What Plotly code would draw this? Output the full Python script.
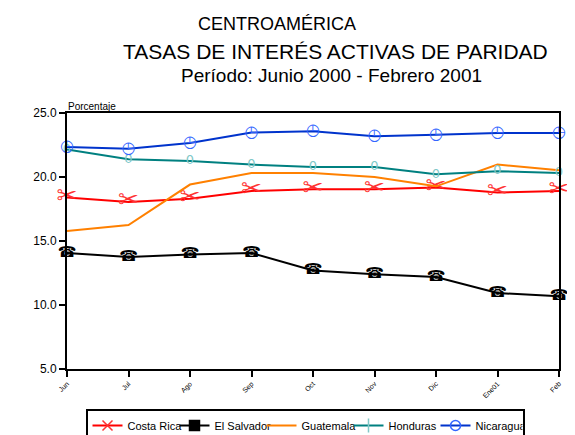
import plotly.graph_objects as go

months = ["Jun", "Jul", "Ago", "Sep", "Oct", "Nov", "Dic", "Ene01", "Feb"]
costa_rica = [18.39, 18.05, 18.31, 18.91, 19.04, 19.04, 19.17, 18.78, 18.91]
el_salvador = [14.06, 13.75, 13.94, 14.06, 12.70, 12.40, 12.19, 10.94, 10.68]
guatemala = [15.78, 16.25, 19.41, 20.31, 20.31, 20.00, 19.27, 20.97, 20.52]
honduras = [22.14, 21.38, 21.25, 20.97, 20.78, 20.78, 20.21, 20.45, 20.31]
nicaragua = [22.34, 22.20, 22.66, 23.47, 23.57, 23.18, 23.31, 23.44, 23.44]

names = ["Costa Rica", "El Salvador", "Guatemala", "Honduras", "Nicaragua"]
series = [costa_rica, el_salvador, guatemala, honduras, nicaragua]
line_colors = ["#FF0000", "#000000", "#FF8000", "#008080", "#0033CC"]
glyphs = ["✂", "☎", None, "0", "◷"]
glyph_colors = ["#FF3333", "#000000", None, "#80C8C8", "#3366FF"]
glyph_sizes = [25, 15, 0, 13, 16]
legend_symbols = ["x-thin-open", "square", None, "line-ns-open", "circle-open"]

x = list(range(len(months)))
fig = go.Figure()
for name, ys, lc, g, gc, gs, ls in zip(names, series, line_colors, glyphs, glyph_colors, glyph_sizes, legend_symbols):
    fig.add_trace(go.Scatter(
        x=x, y=ys, mode="lines", name=name,
        line=dict(color=lc, width=2), showlegend=False, hoverinfo="skip"))
    if g:
        fig.add_trace(go.Scatter(
            x=x, y=ys, mode="text", text=[g] * len(x), showlegend=False,
            textfont=dict(color=gc, size=gs, family="DejaVu Sans"),
            textposition="middle center", cliponaxis=False, hoverinfo="skip"))
    if ls:
        fig.add_trace(go.Scatter(
            x=[None], y=[None], mode="lines+markers", name=name,
            line=dict(color=lc, width=2),
            marker=dict(symbol=ls, color=gc, size=10, line=dict(color=gc, width=1.5))))
    else:
        fig.add_trace(go.Scatter(
            x=[None], y=[None], mode="lines", name=name,
            line=dict(color=lc, width=2)))

# page body has an 8px margin; the figure is sized so it ends at the window edge
OFF = 8
W, H = 575 - OFF, 435 - OFF
ml = 67 - OFF
mt = 113 - OFF
mr = W - (559 - OFF)
mb = H - (369 - OFF)
pw, ph = W - ml - mr, H - mt - mb

def px_x(v):
    return (v - OFF - ml) / pw

def px_y(v):
    return (H - mb - (v - OFF)) / ph

fig.update_layout(
    width=W, height=H,
    margin=dict(l=ml, r=mr, t=mt, b=mb, autoexpand=False),
    paper_bgcolor="white", plot_bgcolor="white",
    font=dict(family="Liberation Sans, Arial, sans-serif", color="black"),
    xaxis=dict(
        range=[0, 8], tickmode="array", tickvals=x, ticktext=months,
        tickangle=-45, tickfont=dict(size=7), ticks="outside", ticklen=6,
        tickwidth=2, tickcolor="black", showline=True, linecolor="black",
        linewidth=2, mirror=True, showgrid=False, zeroline=False),
    yaxis=dict(
        range=[5, 25], tick0=5, dtick=5, tickformat=".1f",
        tickfont=dict(size=12), ticks="outside", ticklen=6, tickwidth=2,
        tickcolor="black", showline=True, linecolor="black", linewidth=2,
        mirror=True, showgrid=False, zeroline=False),
    legend=dict(
        orientation="h", x=px_x(305), y=px_y(409), xanchor="center", yanchor="top",
        bordercolor="black", borderwidth=2, font=dict(size=11),
        itemwidth=30, entrywidth=42, entrywidthmode="pixels",
        tracegroupgap=0, bgcolor="white"),
    showlegend=True,
)

fig.add_shape(type="rect", xref="paper", yref="paper",
              x0=px_x(6), x1=px_x(600), y0=px_y(470), y1=px_y(5),
              line=dict(color="black", width=2), layer="below")

fig.add_annotation(text="CENTROAMÉRICA", xref="paper", yref="paper",
                   x=px_x(277), y=px_y(24), xanchor="center", yanchor="middle",
                   showarrow=False, font=dict(size=18))
fig.add_annotation(text="TASAS DE INTERÉS ACTIVAS DE PARIDAD", xref="paper", yref="paper",
                   x=px_x(335), y=px_y(51), xanchor="center", yanchor="middle",
                   showarrow=False, font=dict(size=21))
fig.add_annotation(text="Período: Junio 2000 - Febrero 2001", xref="paper", yref="paper",
                   x=px_x(331), y=px_y(75), xanchor="center", yanchor="middle",
                   showarrow=False, font=dict(size=19))
fig.add_annotation(text="Porcentaje", xref="paper", yref="paper",
                   x=px_x(66), y=px_y(106), xanchor="left", yanchor="middle",
                   showarrow=False, font=dict(size=10))

fig.write_html("out.html")
